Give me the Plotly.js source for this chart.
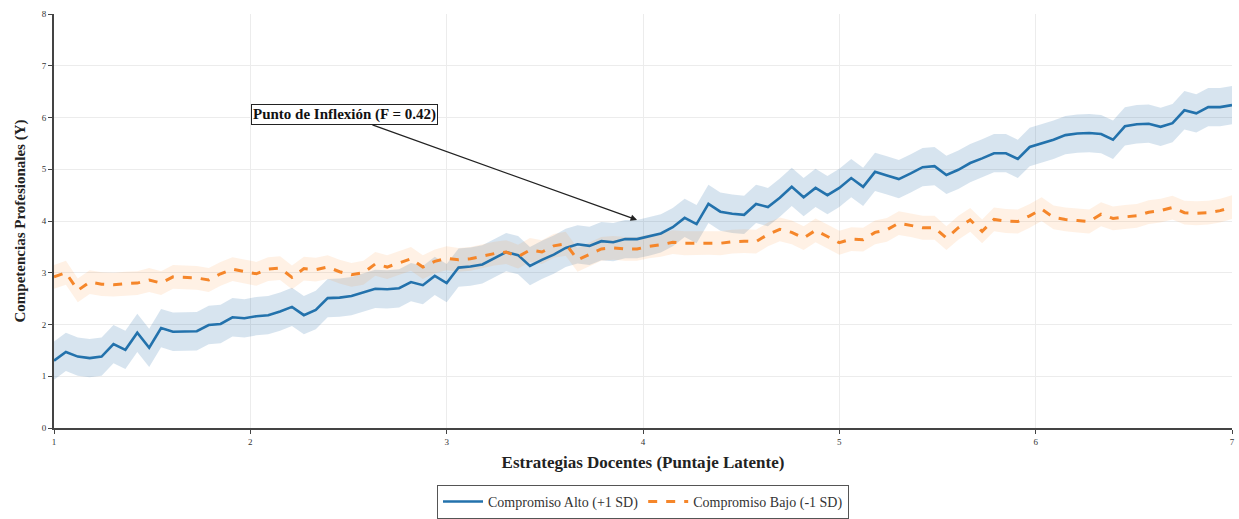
<!DOCTYPE html>
<html>
<head>
<meta charset="utf-8">
<script src="https://cdn.plot.ly/plotly-3.0.1.min.js"></script>
<style>html,body{margin:0;padding:0;background:#fff;}#chart{width:1239px;height:519px;}</style>
</head>
<body>
<div id="chart"></div>
<script>
// Sampling grid of the latent predictor (100 evenly spaced points from 1 to 7)
const xStart = 1, xEnd = 7, nPoints = 100;
const xValues = [];
for (let i = 0; i < nPoints; i++) xValues.push(xStart + (xEnd - xStart) * i / (nPoints - 1));

// Compromiso Alto (+1 SD)
const altoValues = [
  1.30,1.47,1.38,1.35,1.38,1.62,1.51,1.84,1.55,1.93,
  1.86,1.86,1.87,1.99,2.01,2.14,2.12,2.16,2.18,2.25,
  2.34,2.18,2.28,2.51,2.52,2.55,2.62,2.69,2.68,2.70,
  2.82,2.76,2.94,2.80,3.10,3.12,3.16,3.28,3.40,3.34,
  3.13,3.25,3.35,3.48,3.55,3.52,3.61,3.59,3.65,3.65,
  3.70,3.76,3.88,4.06,3.94,4.33,4.18,4.14,4.12,4.33,
  4.27,4.45,4.66,4.46,4.64,4.50,4.64,4.83,4.66,4.95,
  4.88,4.81,4.92,5.04,5.06,4.89,4.99,5.12,5.21,5.31,
  5.31,5.20,5.43,5.50,5.57,5.66,5.69,5.70,5.68,5.57,
  5.83,5.87,5.88,5.82,5.89,6.14,6.08,6.20,6.20,6.24
];
// Compromiso Bajo (-1 SD)
const bajoValues = [
  2.92,3.00,2.66,2.82,2.78,2.77,2.79,2.80,2.86,2.80,
  2.92,2.91,2.90,2.86,2.98,3.07,3.02,2.98,3.07,3.09,
  2.91,3.08,3.06,3.11,3.02,2.96,3.00,3.17,3.11,3.19,
  3.27,3.11,3.22,3.28,3.25,3.27,3.32,3.37,3.40,3.31,
  3.44,3.40,3.52,3.56,3.25,3.36,3.46,3.48,3.46,3.46,
  3.51,3.54,3.59,3.57,3.57,3.58,3.57,3.60,3.61,3.60,
  3.74,3.84,3.78,3.67,3.82,3.70,3.58,3.65,3.64,3.78,
  3.83,3.96,3.92,3.87,3.87,3.67,3.87,4.02,3.80,4.03,
  4.00,3.99,4.10,4.23,4.07,4.03,4.01,3.99,4.13,4.05,
  4.08,4.10,4.17,4.20,4.26,4.16,4.15,4.16,4.20,4.27
];
// Half-width of the confidence bands
const altoBand = 0.37;
const bajoBand = 0.23;

const seriesNames = ['Compromiso Alto (+1 SD)', 'Compromiso Bajo (-1 SD)'];
const annotationText = 'Punto de Inflexión (F = 0.42)';
const annotationPoint = [3.97, 4.02];
const annotationTextPos = [2.48, 6.05];

function band(vals, h, color) {
  const up = vals.map(v => v + h);
  const lo = vals.map(v => v - h);
  return {
    x: xValues.concat(xValues.slice().reverse()),
    y: up.concat(lo.slice().reverse()),
    fill: 'toself', fillcolor: color, mode: 'lines',
    line: {width: 0}, hoverinfo: 'skip', showlegend: false, type: 'scatter'
  };
}

const traces = [
  band(altoValues, altoBand, 'rgba(40,110,170,0.19)'),
  band(bajoValues, bajoBand, 'rgba(255,140,40,0.12)'),
  {x: xValues, y: altoValues, name: seriesNames[0], mode: 'lines', type: 'scatter',
   line: {color: '#2372ac', width: 2.6}},
  {x: xValues, y: bajoValues, name: seriesNames[1], mode: 'lines', type: 'scatter',
   line: {color: '#f5862a', width: 3, dash: 'dash'}}
];

const serif = 'Liberation Serif, Times New Roman, serif';
const layout = {
  width: 1239, height: 519,
  margin: {l: 54, r: 7, t: 14, b: 91, autoexpand: false},
  paper_bgcolor: '#fff', plot_bgcolor: '#fff',
  font: {family: serif, color: '#222', size: 10},
  xaxis: {
    range: [1, 7], dtick: 1, showgrid: true, gridcolor: '#ececec', gridwidth: 1,
    zeroline: false, showline: true, linecolor: '#444', linewidth: 2,
    ticks: 'outside', ticklen: 4, tickcolor: '#444', automargin: false,
    tickfont: {family: serif, size: 9, color: '#333'},
    title: {text: '<b>Estrategias Docentes (Puntaje Latente)</b>', font: {family: serif, size: 17, color: '#222'}, standoff: 10}
  },
  yaxis: {
    range: [0, 8], dtick: 1, showgrid: true, gridcolor: '#ececec', gridwidth: 1,
    zeroline: false, showline: true, linecolor: '#444', linewidth: 2,
    ticks: 'outside', ticklen: 4, tickcolor: '#444', automargin: false,
    tickfont: {family: serif, size: 9, color: '#333'},
    title: {text: '<b>Competencias Profesionales (Y)</b>', font: {family: serif, size: 15, color: '#222'}, standoff: 12}
  },
  legend: {
    orientation: 'h', x: 0.5, xanchor: 'center', y: -0.2195, yanchor: 'bottom',
    bordercolor: '#555', borderwidth: 1, bgcolor: '#fff',
    font: {family: serif, size: 14, color: '#333'}, itemwidth: 40
  },
  annotations: [{
    x: annotationPoint[0], y: annotationPoint[1], xref: 'x', yref: 'y',
    ax: annotationTextPos[0], ay: annotationTextPos[1], axref: 'x', ayref: 'y',
    text: '<b>' + annotationText + '</b>', showarrow: true,
    arrowhead: 2, arrowsize: 1, arrowwidth: 1.3, arrowcolor: '#222',
    bgcolor: '#fff', bordercolor: '#222', borderwidth: 1, borderpad: 1,
    font: {family: serif, size: 15, color: '#111'}
  }],
  showlegend: true
};

Plotly.newPlot('chart', traces, layout, {displayModeBar: false, staticPlot: true});
</script>
</body>
</html>
